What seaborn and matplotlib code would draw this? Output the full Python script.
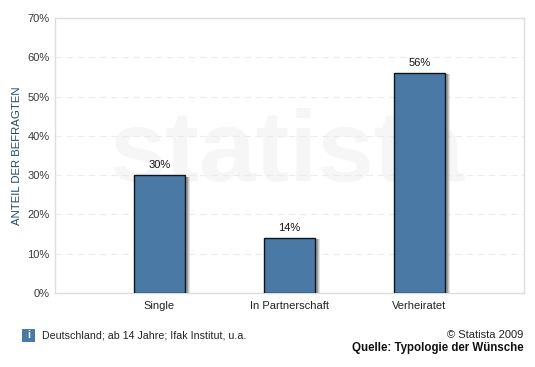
import matplotlib
matplotlib.use('Agg')
import matplotlib.pyplot as plt
import matplotlib.patheffects as pe
from matplotlib.patches import Rectangle
import pandas as pd
import seaborn as sns

categories = ['Single', 'In Partnerschaft', 'Verheiratet']
values = [30, 14, 56]
yticks = [0, 10, 20, 30, 40, 50, 60, 70]

W, H = 535, 367
sns.set_style('white')
plt.rcParams['font.family'] = ['Liberation Sans', 'DejaVu Sans']

df = pd.DataFrame({'group': categories, 'pct': values})

fig = plt.figure(figsize=(W / 100, H / 100), dpi=100, facecolor='white')
ax = fig.add_axes([55 / W, 1 - 293 / H, 469 / W, 275 / H])

# watermark behind everything
ax.text(0.495, 0.50, 'statista', transform=ax.transAxes, fontsize=73, fontweight='bold',
        color='#f6f6f6', ha='center', va='center', zorder=0)

sns.barplot(data=df, x='group', y='pct', color='#4a79a5', saturation=1, width=0.39,
            edgecolor='#0c1520', linewidth=1, ax=ax, zorder=3)

# soft shadow: a few stacked offsets
for bar in ax.patches:
    bar.set_path_effects([
        pe.SimplePatchShadow(offset=(3.5, -1), shadow_rgbFace='#999999', alpha=0.25),
        pe.SimplePatchShadow(offset=(2.8, -1), shadow_rgbFace='#888888', alpha=0.35),
        pe.SimplePatchShadow(offset=(2, -1), shadow_rgbFace='#777777', alpha=0.5),
        pe.Normal(),
    ])

for bar, v in zip(ax.patches, values):
    ax.annotate(f'{v}%', (bar.get_x() + bar.get_width() / 2, v), xytext=(0, 3.5),
                textcoords='offset points', ha='center', va='bottom', fontsize=8, color='#111111')

ax.set_xlim(-0.804, 2.804)
ax.set_ylim(0, 70)
ax.set_yticks(yticks)
ax.set_yticklabels([f'{t}%' for t in yticks])
ax.tick_params(axis='both', length=0, labelsize=8, labelcolor='#3a3a3a')
ax.tick_params(axis='x', pad=6, labelcolor='#222222')
ax.tick_params(axis='y', pad=4)
ax.set_xlabel('')
ax.set_ylabel('ANTEIL DER BEFRAGTEN', fontsize=8.2, color='#1f4a68', labelpad=4)
ax.yaxis.grid(True, color='#ececec', linestyle=(0, (6, 4)), linewidth=0.8)
ax.set_axisbelow(True)
for s in ax.spines.values():
    s.set_color('#dddddd')
    s.set_linewidth(1)

# info badge and footer
fig.add_artist(Rectangle((22 / W, 1 - 342 / H), 13 / W, 13 / H, transform=fig.transFigure,
                         facecolor='#4a79a5', edgecolor='none'))
fig.text(28.5 / W, 1 - 335.5 / H, 'i', fontsize=7.5, fontweight='bold', color='white', ha='center', va='center')
fig.text(42 / W, 1 - 335 / H, 'Deutschland; ab 14 Jahre; Ifak Institut, u.a.', fontsize=7.7, color='#222222',
         ha='left', va='center')
fig.text(523 / W, 1 - 335 / H, '© Statista 2009', fontsize=8, color='#222222', ha='right', va='center')
fig.text(523.5 / W, 1 - 348 / H, 'Quelle: Typologie der Wünsche', fontsize=8.3, fontweight='bold', color='#111111',
         ha='right', va='center')

fig.savefig('out.png', dpi=100)
